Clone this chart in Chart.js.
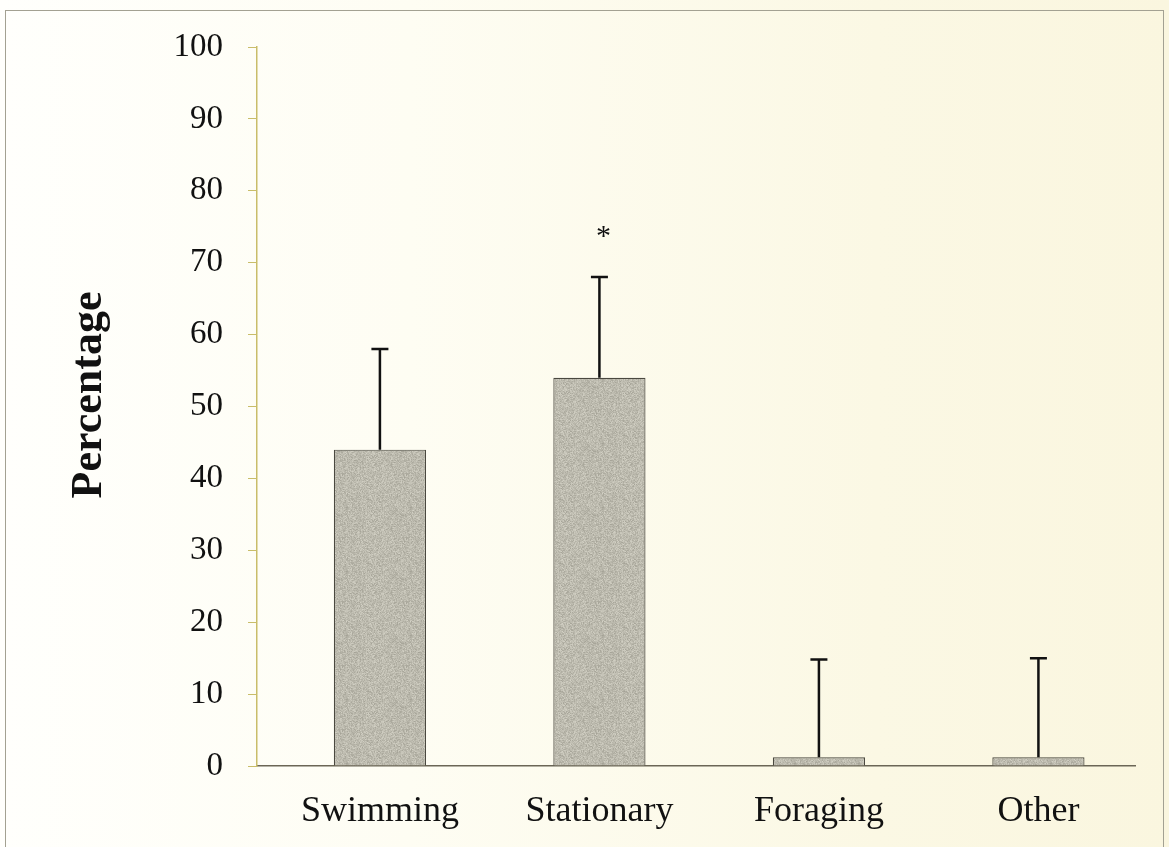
<!DOCTYPE html>
<html>
<head>
<meta charset="utf-8">
<script src="https://cdn.jsdelivr.net/npm/chart.js@4/dist/chart.umd.min.js"></script>
<style>
  html, body { margin: 0; padding: 0; }
  body {
    width: 1169px; height: 847px; overflow: hidden;
    background: linear-gradient(90deg, #fffffc 0%, #fefdf3 35%, #fbf8e4 75%, #faf6df 100%);
  }
  .frame {
    position: absolute; left: 5px; top: 10px; width: 1159px; height: 850px;
    border: 1px solid #a3a192; box-sizing: border-box;
  }
  .wrap { position: absolute; left: 0; top: 0; width: 1169px; height: 847px; }
</style>
</head>
<body>
<div class="frame"></div>
<div class="wrap"><canvas id="c" width="1169" height="847"></canvas></div>
<script>
// Behaviour categories and mean percentage of time spent in each
const categories = ['Swimming', 'Stationary', 'Foraging', 'Other'];
const meanValues = [44, 54, 1.2, 1.2];
// Upper error (standard deviation) for each bar
const errorValues = [14, 14, 13.6, 13.8];
// Significance markers drawn above the error bars
const markers = ['', '*', '', ''];
const yTicks = [0, 10, 20, 30, 40, 50, 60, 70, 80, 90, 100];

const serif = '"Liberation Serif", "Times New Roman", serif';

// Fine grey speckle used as the bar fill (deterministic hash, no RNG)
function speckleFill() {
  const size = 64;
  const cv = document.createElement('canvas');
  cv.width = size; cv.height = size;
  const g = cv.getContext('2d');
  const img = g.createImageData(size, size);
  const hash = (n) => {
    const s = Math.sin(n * 12.9898 + 78.233) * 43758.5453;
    return s - Math.floor(s);
  };
  for (let py = 0; py < size; py++) {
    for (let px = 0; px < size; px++) {
      const k = py * size + px;
      const t = hash(k) * 0.6 + hash(k + 7919) * 0.4;
      const d = Math.round((t - 0.5) * 48);
      img.data[k * 4] = 188 + d;
      img.data[k * 4 + 1] = 186 + d;
      img.data[k * 4 + 2] = 174 + d;
      img.data[k * 4 + 3] = 255;
    }
  }
  g.putImageData(img, 0, 0);
  return g.createPattern(cv, 'repeat');
}

// Draws the upward error bars and significance markers
const errorBarPlugin = {
  id: 'errorBars',
  afterDatasetsDraw(chart) {
    const ctx = chart.ctx;
    const meta = chart.getDatasetMeta(0);
    const y = chart.scales.y;
    ctx.save();
    meta.data.forEach((bar, i) => {
      const x = bar.x;
      const yBase = y.getPixelForValue(meanValues[i]);
      const yTop = y.getPixelForValue(meanValues[i] + errorValues[i]);
      ctx.strokeStyle = '#111';
      ctx.lineWidth = 2.5;
      ctx.beginPath();
      ctx.moveTo(x, yBase);
      ctx.lineTo(x, yTop);
      ctx.moveTo(x - 8.5, yTop);
      ctx.lineTo(x + 8.5, yTop);
      ctx.stroke();
      if (markers[i]) {
        ctx.fillStyle = '#111';
        ctx.font = '30px ' + serif;
        ctx.textAlign = 'center';
        ctx.textBaseline = 'middle';
        ctx.fillText(markers[i], x + 4, yTop - 40);
      }
    });
    ctx.restore();
  }
};

// Rotated y-axis title
const yTitlePlugin = {
  id: 'yTitle',
  afterDraw(chart) {
    const ctx = chart.ctx;
    ctx.save();
    ctx.translate(90, 395);
    ctx.rotate(-Math.PI / 2);
    ctx.fillStyle = '#111';
    ctx.font = 'bold 44px ' + serif;
    ctx.textAlign = 'center';
    ctx.textBaseline = 'middle';
    ctx.fillText('Percentage', 0, 0);
    ctx.restore();
  }
};

new Chart(document.getElementById('c'), {
  type: 'bar',
  data: {
    datasets: [{
      data: meanValues.map((v, i) => ({ x: i, y: v })),
      backgroundColor: speckleFill(),
      borderColor: '#4a483f',
      borderWidth: 1.2,
      categoryPercentage: 1,
      barPercentage: 0.42
    }]
  },
  options: {
    responsive: false,
    animation: false,
    devicePixelRatio: 1,
    layout: { padding: { top: 47, right: 34, bottom: 0, left: 0 } },
    plugins: { legend: { display: false }, tooltip: { enabled: false } },
    scales: {
      x: {
        type: 'linear',
        offset: false,
        min: -0.56, max: 3.44,
        afterBuildTicks(scale) { scale.ticks = categories.map((c, i) => ({ value: i })); },
        grid: { display: true, drawOnChartArea: false, drawTicks: false, tickLength: 0 },
        border: { display: true, color: '#6b6656', width: 1.5 },
        ticks: {
          color: '#111', font: { family: serif, size: 36 }, padding: 24,
          callback: (v) => categories[v] ?? ''
        },
        afterFit(scale) { scale.height = 81; }
      },
      y: {
        min: 0, max: 100,
        afterBuildTicks(scale) { scale.ticks = yTicks.map(v => ({ value: v })); },
        grid: { drawOnChartArea: false, drawTicks: true, tickLength: 9, color: '#c9bd6a', lineWidth: 1 },
        border: { display: true, color: '#c9bd6a', width: 1.5 },
        ticks: { color: '#111', font: { family: serif, size: 33 }, padding: 25 },
        afterFit(scale) { scale.width = 257; }
      }
    }
  },
  plugins: [errorBarPlugin, yTitlePlugin]
});
</script>
</body>
</html>
